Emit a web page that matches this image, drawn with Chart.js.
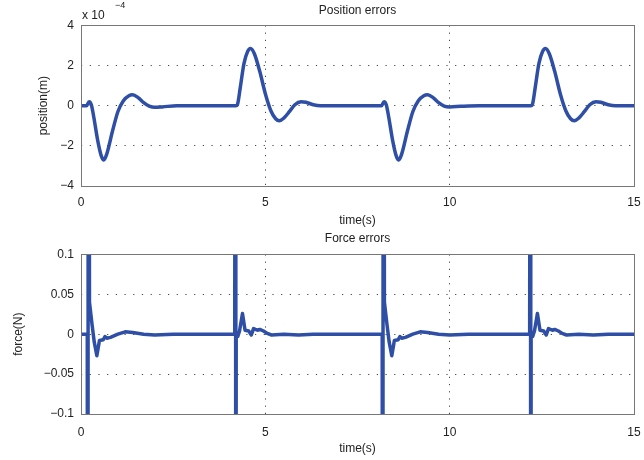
<!DOCTYPE html>
<html>
<head>
<meta charset="utf-8">
<script src="https://cdn.jsdelivr.net/npm/chart.js@4"></script>
<style>
    body { margin: 0; background: #fff; }
    .box { position: relative; width: 644px; height: 230px; }
</style>
</head>
<body>
<div class="box"><canvas id="position-chart"></canvas></div>
<div class="box"><canvas id="force-chart"></canvas></div>
<script>
// position error, in units of 1e-4 m
const posTime = [
    0, 0.15, 0.22, 0.28, 0.35, 0.45, 0.55, 0.62, 0.7, 0.85, 1.0, 1.15, 1.3, 1.4, 1.55, 1.7, 1.85, 2.0, 2.2, 2.6, 4.2,
    4.25, 4.32, 4.42, 4.52, 4.6, 4.7, 4.85, 5.0, 5.15, 5.28, 5.38, 5.5, 5.65, 5.8, 5.97, 6.1, 6.3, 6.5, 8.15,
    8.22, 8.28, 8.35, 8.45, 8.55, 8.62, 8.7, 8.85, 9.0, 9.15, 9.3, 9.4, 9.55, 9.7, 9.85, 10.0, 10.3, 10.8, 12.2,
    12.25, 12.32, 12.42, 12.52, 12.6, 12.7, 12.85, 13.0, 13.15, 13.28, 13.38, 13.5, 13.65, 13.8, 13.97, 14.1, 14.3, 14.5, 15
];
const posValue = [
    0, 0, 0.2, 0.05, -0.6, -1.7, -2.5, -2.7, -2.4, -1.3, -0.3, 0.25, 0.5, 0.54, 0.4, 0.15, -0.02, -0.08, -0.06, 0, 0,
    0.1, 0.9, 2.1, 2.7, 2.85, 2.6, 1.7, 0.6, -0.25, -0.65, -0.75, -0.62, -0.3, 0.05, 0.2, 0.17, 0.05, 0, 0,
    0.2, 0.05, -0.6, -1.7, -2.5, -2.7, -2.4, -1.3, -0.3, 0.25, 0.5, 0.54, 0.4, 0.15, -0.02, -0.06, -0.03, 0, 0,
    0.1, 0.9, 2.1, 2.7, 2.85, 2.6, 1.7, 0.6, -0.25, -0.65, -0.75, -0.62, -0.3, 0.05, 0.2, 0.17, 0.05, 0, 0
];

// force error, N (spikes run far off the axis and are clipped)
const forceTime = [
    0, 0.17, 0.185, 0.2, 0.23, 0.3, 0.36, 0.43, 0.5, 0.6, 0.65, 0.7, 0.8, 1.0, 1.2, 1.4, 1.7, 2.0, 2.5,
    4.17, 4.19, 4.2, 4.21, 4.25, 4.3, 4.38, 4.45, 4.55, 4.62, 4.68, 4.73, 4.8, 4.85, 4.95, 5.05, 5.17, 5.5, 5.9, 6.3,
    8.17, 8.185, 8.2, 8.23, 8.3, 8.36, 8.43, 8.5, 8.6, 8.65, 8.7, 8.8, 9.0, 9.2, 9.4, 9.7, 10.0, 10.5,
    12.17, 12.19, 12.2, 12.21, 12.25, 12.3, 12.38, 12.45, 12.55, 12.62, 12.68, 12.73, 12.8, 12.85, 12.95, 13.05, 13.17, 13.5, 13.9, 14.3, 15
];
const forceValue = [
    0, 0, -1, 1, 0.04, 0.012, -0.01, -0.027, -0.008, -0.007, -0.003, -0.005, -0.004, 0, 0.003, 0.002, 0, -0.001, 0,
    0, 1, -1, 0, -0.003, 0.004, 0.026, 0.005, 0.004, -0.001, 0.007, 0.006, 0.005, 0.006, 0.004, 0.001, -0.001, 0, -0.001, 0,
    0, -1, 1, 0.04, 0.012, -0.01, -0.027, -0.008, -0.007, -0.003, -0.005, -0.004, 0, 0.003, 0.002, 0, -0.001, 0,
    0, 1, -1, 0, -0.003, 0.004, 0.026, 0.005, 0.004, -0.001, 0.007, 0.006, 0.005, 0.006, 0.004, 0.001, -0.001, 0, -0.001, 0, 0
];

const xTicks = [0, 5, 10, 15];
const posTicks = [-4, -2, 0, 2, 4];
const forceTicks = [-0.1, -0.05, 0, 0.05, 0.1];

const LINE = '#2f4fa6';
const FONT = { family: '"Liberation Sans", Arial, sans-serif', size: 12 };
const TEXT = '#222';

const frame = {
    id: 'frame',
    afterDatasetsDraw(chart) {
        const { ctx, chartArea: a } = chart;
        ctx.save();
        ctx.strokeStyle = '#777';
        ctx.lineWidth = 1;
        ctx.strokeRect(Math.round(a.left) + 0.5, Math.round(a.top) + 0.5,
            Math.round(a.right - a.left), Math.round(a.bottom - a.top));
        ctx.restore();
    }
};

const exponent = {
    id: 'exponent',
    afterDraw(chart) {
        if (!chart.options.plugins.exponent || !chart.options.plugins.exponent.show) return;
        const { ctx, chartArea: a } = chart;
        ctx.save();
        ctx.fillStyle = TEXT;
        ctx.textBaseline = 'alphabetic';
        ctx.font = '12px ' + FONT.family;
        ctx.fillText('x 10', a.left + 1, a.top - 6);
        ctx.font = '9px ' + FONT.family;
        ctx.fillText('\u22124', a.left + 34, a.top - 17);
        ctx.restore();
    }
};

function fmt(v) {
    return String(v).replace('-', '\u2212');
}

function makeChart(canvasId, cfg) {
    const data = cfg.time.map((t, i) => ({ x: t, y: cfg.value[i] }));
    return new Chart(document.getElementById(canvasId), {
        type: 'line',
        data: {
            datasets: [{
                data: data,
                borderColor: LINE,
                borderWidth: 3.5,
                pointRadius: 0,
                tension: cfg.smooth ? 0.4 : 0,
                cubicInterpolationMode: cfg.smooth ? 'monotone' : 'default',
                borderJoinStyle: 'round',
                borderCapStyle: 'round'
            }]
        },
        options: {
            responsive: true,
            maintainAspectRatio: false,
            animation: false,
            layout: { padding: { right: 10 } },
            plugins: {
                legend: { display: false },
                tooltip: { enabled: false },
                exponent: { show: cfg.exponent },
                title: {
                    display: true,
                    text: cfg.title,
                    color: TEXT,
                    font: { ...FONT, weight: 'normal' },
                    fullSize: false,
                    padding: cfg.titlePad
                }
            },
            scales: {
                x: {
                    type: 'linear',
                    min: 0,
                    max: 15,
                    afterBuildTicks: (s) => { s.ticks = xTicks.map(v => ({ value: v })); },
                    afterFit: (s) => { s.height = cfg.xHeight; s.paddingRight = 0; },
                    ticks: { color: TEXT, font: FONT, padding: cfg.xTickPad, maxRotation: 0, callback: fmt },
                    grid: { color: '#444', lineWidth: 1, drawTicks: false },
                    border: { display: false, dash: [1.2, 6] },
                    title: { display: true, text: 'time(s)', color: TEXT, font: FONT, padding: { top: 0, bottom: cfg.xTitlePad } }
                },
                y: {
                    min: cfg.yTicks[0],
                    max: cfg.yTicks[cfg.yTicks.length - 1],
                    afterBuildTicks: (s) => { s.ticks = cfg.yTicks.map(v => ({ value: v })); },
                    afterFit: (s) => { s.width = 81; },
                    ticks: { color: TEXT, font: FONT, padding: 7, callback: fmt },
                    grid: { color: '#444', lineWidth: 1, drawTicks: false },
                    border: { display: false, dash: [1.2, 7.5] },
                    title: { display: true, text: cfg.yLabel, color: TEXT, font: FONT, padding: { top: cfg.yTitlePad, bottom: 0 } }
                }
            }
        },
        plugins: [frame, exponent]
    });
}

makeChart('position-chart', {
    time: posTime, value: posValue, smooth: true, exponent: true,
    title: 'Position errors', titlePad: { top: 3, bottom: 8 },
    yTicks: posTicks, yLabel: 'position(m)', yTitlePad: 36,
    xHeight: 44, xTickPad: 9, xTitlePad: 2
});

makeChart('force-chart', {
    time: forceTime, value: forceValue, smooth: false, exponent: false,
    title: 'Force errors', titlePad: { top: 1, bottom: 9 },
    yTicks: forceTicks, yLabel: 'force(N)', yTitlePad: 11,
    xHeight: 46, xTickPad: 11, xTitlePad: 4
});
</script>
</body>
</html>
